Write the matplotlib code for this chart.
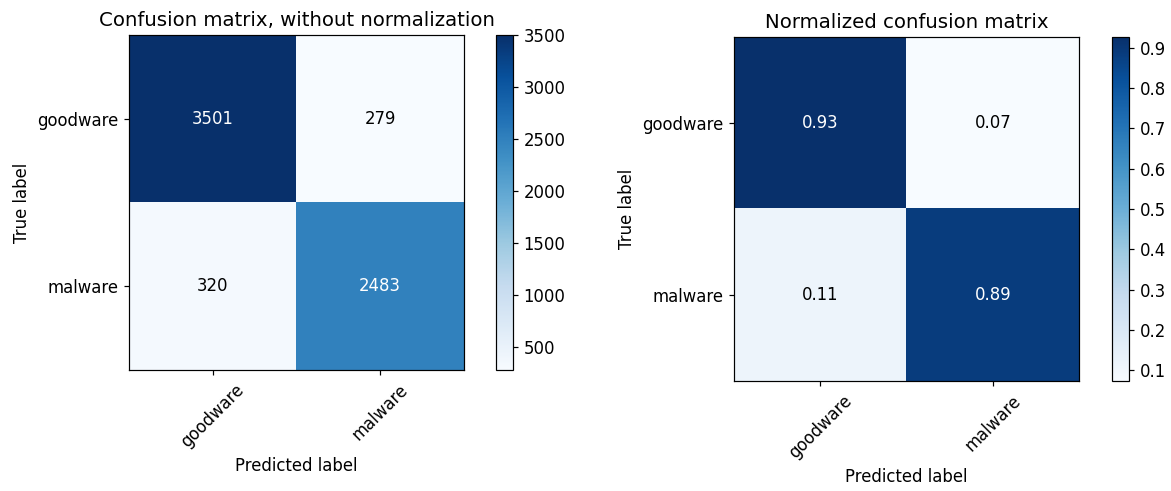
import numpy as np
import matplotlib
matplotlib.use("Agg")
import matplotlib.pyplot as plt

classes = ["goodware", "malware"]
counts = np.array([[3501, 279],
                   [320, 2483]])

W, H = 1171, 491
DPI = 108
fig = plt.figure(figsize=(W / DPI, H / DPI), dpi=DPI)

TXT = 11
TITLE = 13.2


def px_axes(x0, y0, x1, y1):
    return fig.add_axes([x0 / W, 1 - y1 / H, (x1 - x0) / W, (y1 - y0) / H])


def draw_cm(ax, cax, cm, title, fmt):
    im = ax.imshow(cm, interpolation="nearest", cmap=plt.cm.Blues, aspect="auto")
    ax.set_title(title, fontsize=TITLE)
    cb = fig.colorbar(im, cax=cax)
    cb.ax.tick_params(labelsize=TXT)
    ticks = np.arange(len(classes))
    ax.set_xticks(ticks)
    ax.set_xticklabels(classes, rotation=45, fontsize=TXT)
    ax.set_yticks(ticks)
    ax.set_yticklabels(classes, fontsize=TXT)
    thresh = cm.max() / 2.0
    for i in range(cm.shape[0]):
        for j in range(cm.shape[1]):
            ax.text(j, i, format(cm[i, j], fmt), ha="center", va="center",
                    color="white" if cm[i, j] > thresh else "black", fontsize=TXT)
    ax.set_ylabel("True label", fontsize=TXT)
    ax.set_xlabel("Predicted label", fontsize=TXT)


ax1 = px_axes(129, 35, 464, 370)
cax1 = px_axes(496, 35, 513, 370)
draw_cm(ax1, cax1, counts, "Confusion matrix, without normalization", "d")

normalized = counts.astype(float) / counts.sum(axis=1)[:, np.newaxis]
ax2 = px_axes(734, 37, 1079, 381)
cax2 = px_axes(1112, 37, 1129, 381)
draw_cm(ax2, cax2, normalized, "Normalized confusion matrix", ".2f")

fig.savefig("out.png", dpi=DPI)
